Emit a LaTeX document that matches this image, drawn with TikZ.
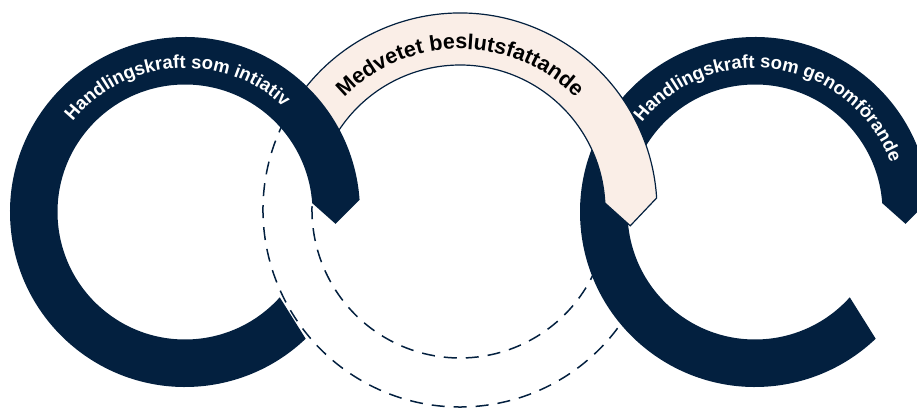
\documentclass[tikz,border=0pt]{standalone}
\usepackage{fontspec}
\setmainfont{Liberation Sans}
\usetikzlibrary{decorations.text}
\definecolor{navy}{HTML}{03203F}
\definecolor{peach}{HTML}{FAEEE7}
\begin{document}
\begin{tikzpicture}[x=1pt,y=1pt,
  ringshape/.style={fill=navy},
  bandshape/.style={fill=peach,draw=navy,line width=1.2pt,line join=miter},
  dashline/.style={draw=navy,line width=1.5pt,dash pattern=on 13pt off 9pt},
  ringtext/.style={decorate,decoration={text along path,text align=center,
    text={|\color{white}\bfseries\fontsize{18.5}{20}\selectfont|#1}}},
  bandtext/.style={decorate,decoration={text along path,text align=center,
    text={|\color{black}\bfseries\fontsize{21.5}{24}\selectfont|#1}}},
  openring/.pic={
    \fill[ringshape] (4:175) arc[start angle=4,end angle=313.6,radius=175]
      -- (318:127.5) arc[start angle=318,end angle=4,radius=127.5]
      -- (-4.5:151) -- cycle;
  }]
\useasboundingbox (0,0) rectangle (917,407);
\clip (0,0) rectangle (917,407);
\coordinate (L) at (185,195);
\coordinate (R) at (755,195);
\coordinate (M) at (460,197);
% dashed continuation of the middle band
\begin{scope}[shift={(M)}]
  \draw[dashline] (153:197) arc[start angle=153,end angle=325,radius=197];
  \draw[dashline] (153:148) arc[start angle=153,end angle=334,radius=148];
\end{scope}
% right ring
\pic at (R) {openring};
\begin{scope}[shift={(R)}]
  \path[ringtext={Handlingskraft som genomförande}] (160.7:144) arc[start angle=160.7,end angle=0.7,radius=144];
\end{scope}
% middle band
\begin{scope}[shift={(M)}]
  \draw[bandshape] (153:197) arc[start angle=153,end angle=3.5,radius=197]
    -- (-5.3:171) -- (2.8:145) arc[start angle=2.8,end angle=153,radius=145] -- cycle;
  \path[bandtext={Medvetet beslutsfattande}] (170:161) arc[start angle=170,end angle=10,radius=161];
\end{scope}
% left ring
\pic at (L) {openring};
\begin{scope}[shift={(L)}]
  \path[ringtext={Handlingskraft som intiativ}] (174:144) arc[start angle=174,end angle=14,radius=144];
\end{scope}
\end{tikzpicture}
\end{document}
